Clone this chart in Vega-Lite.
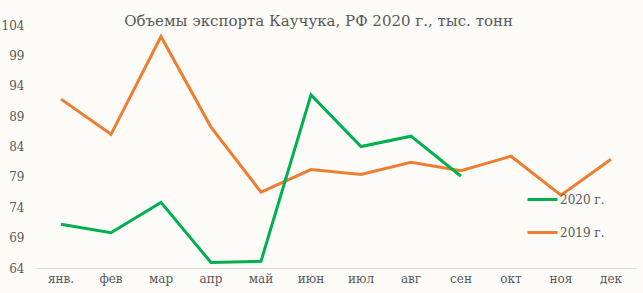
{
  "$schema": "https://vega.github.io/schema/vega-lite/v6.json",
  "autosize": "none",
  "width": 600,
  "height": 243,
  "padding": {"left": 36, "top": 25, "right": 7, "bottom": 25},
  "background": "#fcfbf7",
  "config": {
    "view": {"stroke": null},
    "font": "DejaVu Serif"
  },
  "title": {
    "text": "Объемы экспорта Каучука, РФ 2020 г., тыс. тонн",
    "font": "DejaVu Serif",
    "fontSize": 15,
    "fontWeight": "normal",
    "color": "#595959",
    "anchor": "middle",
    "frame": "bounds",
    "dx": 0,
    "offset": -10
  },
  "data": {
    "values": [
      {"month": "янв.", "series": "2019 г.", "value": 91.8},
      {"month": "фев", "series": "2019 г.", "value": 86.0},
      {"month": "мар", "series": "2019 г.", "value": 102.1},
      {"month": "апр", "series": "2019 г.", "value": 87.2},
      {"month": "май", "series": "2019 г.", "value": 76.5},
      {"month": "июн", "series": "2019 г.", "value": 80.2},
      {"month": "июл", "series": "2019 г.", "value": 79.4},
      {"month": "авг", "series": "2019 г.", "value": 81.4},
      {"month": "сен", "series": "2019 г.", "value": 80.0},
      {"month": "окт", "series": "2019 г.", "value": 82.4},
      {"month": "ноя", "series": "2019 г.", "value": 76.0},
      {"month": "дек", "series": "2019 г.", "value": 81.9},
      {"month": "янв.", "series": "2020 г.", "value": 71.2},
      {"month": "фев", "series": "2020 г.", "value": 69.8},
      {"month": "мар", "series": "2020 г.", "value": 74.8},
      {"month": "апр", "series": "2020 г.", "value": 64.9},
      {"month": "май", "series": "2020 г.", "value": 65.1},
      {"month": "июн", "series": "2020 г.", "value": 92.5},
      {"month": "июл", "series": "2020 г.", "value": 84.0},
      {"month": "авг", "series": "2020 г.", "value": 85.7},
      {"month": "сен", "series": "2020 г.", "value": 79.1}
    ]
  },
  "mark": {"type": "line", "strokeWidth": 3, "strokeJoin": "miter"},
  "encoding": {
    "x": {
      "field": "month",
      "type": "ordinal",
      "sort": ["янв.", "фев", "мар", "апр", "май", "июн", "июл", "авг", "сен", "окт", "ноя", "дек"],
      "scale": {"type": "band", "paddingInner": 0, "paddingOuter": 0},
      "axis": {
        "title": null,
        "labelAngle": 0,
        "ticks": false,
        "domainColor": "#d9d9d9",
        "domainWidth": 1,
        "labelColor": "#595959",
        "labelFontSize": 12,
        "labelPadding": 5,
        "labelFont": "DejaVu Serif"
      }
    },
    "y": {
      "field": "value",
      "type": "quantitative",
      "scale": {"domain": [64, 104], "nice": false, "zero": false},
      "axis": {
        "title": null,
        "values": [64, 69, 74, 79, 84, 89, 94, 99, 104],
        "grid": false,
        "domain": false,
        "ticks": false,
        "labelColor": "#595959",
        "labelFontSize": 12,
        "labelPadding": 12,
        "labelFont": "DejaVu Serif"
      }
    },
    "color": {
      "field": "series",
      "type": "nominal",
      "scale": {"domain": ["2020 г.", "2019 г."], "range": ["#00b050", "#ed7d31"]},
      "legend": {
        "title": null,
        "orient": "none",
        "legendX": 490,
        "legendY": 158,
        "symbolType": "stroke",
        "symbolSize": 900,
        "symbolStrokeWidth": 3,
        "labelFontSize": 12,
        "labelColor": "#595959",
        "labelFont": "DejaVu Serif",
        "labelOffset": 1,
        "rowPadding": 10
      }
    }
  }
}
